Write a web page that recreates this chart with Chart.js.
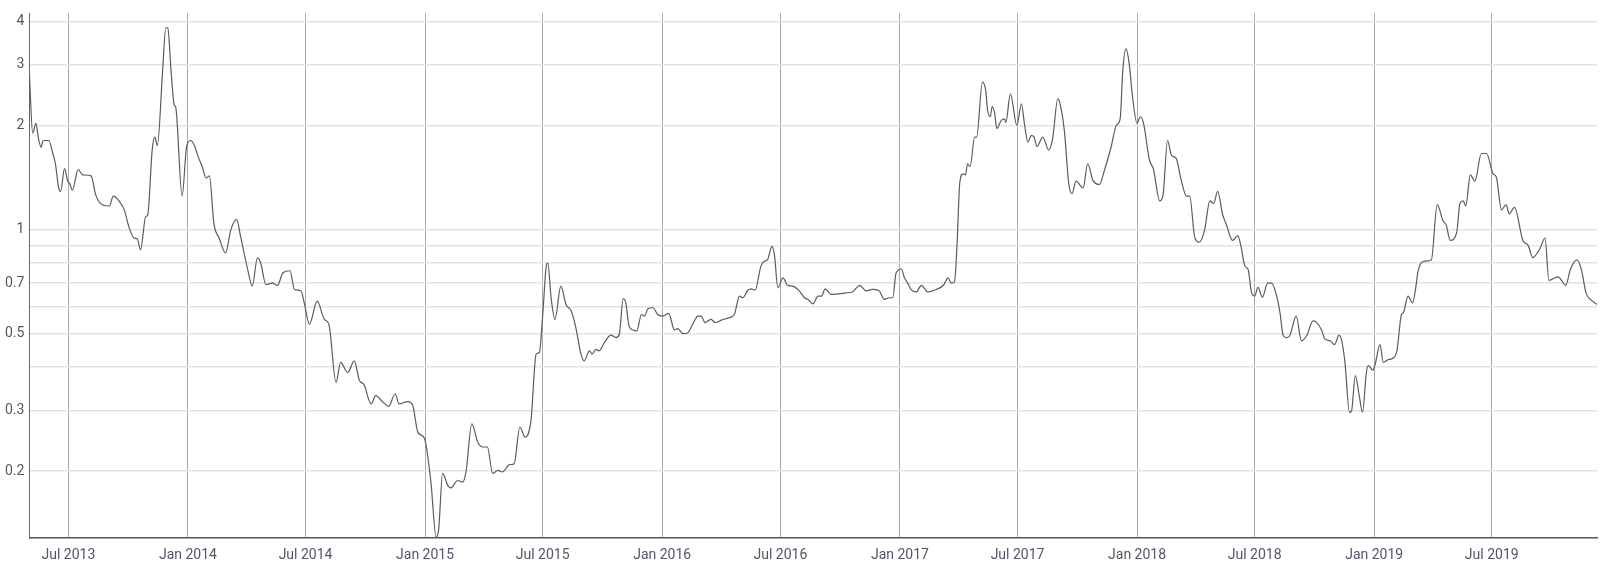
<!DOCTYPE html>
<html>
<head>
<meta charset="utf-8">
<script src="https://cdn.jsdelivr.net/npm/chart.js@4.4.1/dist/chart.umd.min.js"></script>
<style>
  body { margin: 0; background: #fff; overflow: hidden; }
  #wrap { width: 1600px; height: 564px; }
</style>
</head>
<body>
<div id="wrap"><canvas id="chart"></canvas></div>
<script>
// sample dates (roughly weekly)
const dates = [
  '2013-05-02','2013-05-07','2013-05-12','2013-05-16','2013-05-20','2013-05-23','2013-06-01','2013-06-07','2013-06-11','2013-06-16','2013-06-19','2013-06-25','2013-06-30','2013-07-03','2013-07-07','2013-07-16','2013-07-23','2013-08-05','2013-08-12','2013-08-22','2013-09-02','2013-09-08','2013-09-17','2013-09-25','2013-10-02','2013-10-10','2013-10-15','2013-10-20','2013-10-28','2013-10-31','2013-11-07','2013-11-11','2013-11-15','2013-11-23','2013-11-28','2013-12-01','2013-12-06','2013-12-11','2013-12-13','2013-12-23','2013-12-30',
  '2014-01-05','2014-01-11','2014-01-17','2014-01-23','2014-01-29','2014-02-03','2014-02-10','2014-02-18','2014-02-28','2014-03-08','2014-03-17','2014-03-23','2014-04-03','2014-04-10','2014-04-18','2014-04-23','2014-05-01','2014-05-11','2014-05-19','2014-05-27','2014-06-07','2014-06-14','2014-06-24','2014-06-29','2014-07-07','2014-07-19','2014-07-30','2014-08-06','2014-08-17','2014-08-24','2014-09-04','2014-09-14','2014-09-22','2014-09-29','2014-10-10','2014-10-17','2014-10-28','2014-11-06','2014-11-16','2014-11-22','2014-12-05','2014-12-13','2014-12-21','2014-12-31',
  '2015-01-10','2015-01-18','2015-01-22','2015-01-28','2015-02-05','2015-02-10','2015-02-20','2015-02-28','2015-03-05','2015-03-14','2015-03-23','2015-03-31','2015-04-07','2015-04-15','2015-04-23','2015-04-30','2015-05-11','2015-05-18','2015-05-27','2015-06-04','2015-06-13','2015-06-21','2015-06-26','2015-07-01','2015-07-07','2015-07-09','2015-07-14','2015-07-20','2015-07-29','2015-08-06','2015-08-14','2015-08-21','2015-08-29','2015-09-03','2015-09-11','2015-09-15','2015-09-21','2015-09-26','2015-10-04','2015-10-14','2015-10-22','2015-10-27','2015-11-02','2015-11-06','2015-11-11','2015-11-17','2015-11-23','2015-11-30','2015-12-05','2015-12-10','2015-12-18','2015-12-25',
  '2016-01-02','2016-01-11','2016-01-20','2016-01-25','2016-02-02','2016-02-09','2016-02-17','2016-02-25','2016-03-01','2016-03-07','2016-03-16','2016-03-23','2016-04-01','2016-04-13','2016-04-21','2016-04-29','2016-05-04','2016-05-12','2016-05-17','2016-05-23','2016-06-01','2016-06-06','2016-06-11','2016-06-18','2016-06-22','2016-06-27','2016-07-05','2016-07-12','2016-07-20','2016-07-30','2016-08-07','2016-08-13','2016-08-20','2016-08-28','2016-09-02','2016-09-08','2016-09-17','2016-09-30','2016-10-10','2016-10-20','2016-10-31','2016-11-10','2016-11-20','2016-11-30','2016-12-08','2016-12-16','2016-12-21','2016-12-26',
  '2017-01-03','2017-01-08','2017-01-13','2017-01-18','2017-01-26','2017-02-03','2017-02-13','2017-02-26','2017-03-09','2017-03-16','2017-03-21','2017-03-26','2017-03-30','2017-04-03','2017-04-08','2017-04-12','2017-04-15','2017-04-19','2017-04-26','2017-04-29','2017-05-08','2017-05-13','2017-05-16','2017-05-20','2017-05-23','2017-05-27','2017-05-30','2017-06-06','2017-06-11','2017-06-13','2017-06-20','2017-06-30','2017-07-07','2017-07-12','2017-07-17','2017-07-22','2017-07-26','2017-07-31','2017-08-09','2017-08-18','2017-08-24','2017-09-01','2017-09-04','2017-09-11','2017-09-18','2017-09-23','2017-09-29','2017-10-10','2017-10-17','2017-10-25','2017-11-04','2017-11-12','2017-11-22','2017-11-30','2017-12-06','2017-12-10','2017-12-15','2017-12-20','2017-12-25',
  '2018-01-01','2018-01-06','2018-01-11','2018-01-20','2018-01-26','2018-02-05','2018-02-10','2018-02-17','2018-02-23','2018-03-02','2018-03-10','2018-03-18','2018-03-23','2018-03-31','2018-04-07','2018-04-15','2018-04-23','2018-04-29','2018-05-05','2018-05-13','2018-05-18','2018-05-28','2018-06-05','2018-06-10','2018-06-16','2018-06-21','2018-06-26','2018-07-01','2018-07-06','2018-07-13','2018-07-21','2018-07-27','2018-08-04','2018-08-09','2018-08-14','2018-08-19','2018-08-24','2018-09-03','2018-09-11','2018-09-19','2018-09-29','2018-10-04','2018-10-12','2018-10-17','2018-10-25','2018-11-01','2018-11-08','2018-11-12','2018-11-17','2018-11-24','2018-11-27','2018-12-03','2018-12-09','2018-12-14','2018-12-20','2018-12-23','2018-12-30',
  '2019-01-02','2019-01-10','2019-01-15','2019-01-22','2019-01-30','2019-02-05','2019-02-12','2019-02-15','2019-02-22','2019-03-01','2019-03-07','2019-03-09','2019-03-20','2019-03-30','2019-04-08','2019-04-17','2019-04-22','2019-04-28','2019-05-08','2019-05-13','2019-05-18','2019-05-22','2019-05-29','2019-06-05','2019-06-15','2019-06-23','2019-07-03','2019-07-08','2019-07-16','2019-07-23','2019-07-28','2019-08-05','2019-08-18','2019-08-26','2019-09-02','2019-09-13','2019-09-21','2019-09-27','2019-10-11','2019-10-23','2019-10-30','2019-11-09','2019-11-16','2019-11-23','2019-11-30','2019-12-10'
];

// series values, same order as dates
const values = [
  2.8,1.90,2.03,1.83,1.73,1.81,1.81,1.66,1.55,1.32,1.29,1.50,1.38,1.36,1.30,1.49,1.44,1.43,1.26,1.18,1.17,1.25,1.21,1.14,1.02,0.945,0.94,0.874,1.09,1.10,1.70,1.85,1.75,2.88,3.84,3.83,2.88,2.29,2.27,1.25,1.74,
  1.81,1.75,1.62,1.52,1.41,1.43,1.04,0.945,0.856,0.998,1.07,0.956,0.766,0.686,0.828,0.80,0.693,0.70,0.69,0.749,0.76,0.671,0.665,0.614,0.532,0.621,0.55,0.532,0.361,0.413,0.386,0.417,0.366,0.356,0.313,0.331,0.317,0.308,0.335,0.313,0.318,0.31,0.259,0.249,
  0.186,0.129,0.136,0.197,0.182,0.179,0.188,0.186,0.199,0.274,0.243,0.235,0.235,0.197,0.201,0.199,0.209,0.21,0.268,0.251,0.28,0.436,0.441,0.562,0.792,0.80,0.635,0.55,0.686,0.607,0.581,0.521,0.436,0.417,0.446,0.436,0.45,0.446,0.471,0.495,0.487,0.498,0.631,0.614,0.526,0.512,0.509,0.568,0.562,0.59,0.594,0.568,
  0.562,0.572,0.512,0.517,0.50,0.502,0.532,0.562,0.562,0.538,0.55,0.538,0.547,0.556,0.568,0.642,0.635,0.668,0.674,0.668,0.784,0.81,0.817,0.894,0.84,0.678,0.725,0.69,0.686,0.665,0.635,0.627,0.61,0.642,0.642,0.674,0.649,0.652,0.656,0.66,0.69,0.665,0.671,0.665,0.628,0.635,0.635,0.749,
  0.769,0.725,0.70,0.671,0.66,0.69,0.66,0.671,0.69,0.725,0.70,0.706,0.914,1.36,1.45,1.44,1.55,1.52,1.85,1.85,2.67,2.53,2.21,2.12,2.27,2.16,1.96,2.07,2.09,2.04,2.47,2.0,2.31,2.0,1.79,1.87,1.86,1.74,1.85,1.70,1.83,2.39,2.33,1.94,1.35,1.27,1.38,1.32,1.55,1.39,1.35,1.49,1.73,2.0,2.09,2.88,3.33,3.01,2.42,
  2.03,2.12,2.03,1.59,1.50,1.21,1.26,1.81,1.64,1.61,1.39,1.25,1.25,0.945,0.92,0.998,1.21,1.19,1.29,1.10,1.04,0.93,0.96,0.894,0.784,0.766,0.66,0.642,0.68,0.638,0.70,0.70,0.642,0.575,0.493,0.487,0.493,0.562,0.477,0.493,0.544,0.54,0.512,0.483,0.477,0.465,0.495,0.477,0.413,0.296,0.298,0.378,0.331,0.296,0.386,0.404,0.392,
  0.404,0.465,0.413,0.42,0.425,0.446,0.568,0.575,0.642,0.614,0.70,0.749,0.81,0.817,1.18,1.06,1.03,0.93,0.98,1.19,1.21,1.17,1.44,1.38,1.66,1.66,1.45,1.42,1.14,1.18,1.11,1.16,0.93,0.90,0.83,0.88,0.945,0.713,0.73,0.69,0.766,0.817,0.766,0.656,0.628,0.607
];

// axis ticks
const xTickDates = ['2013-07-01','2014-01-01','2014-07-01','2015-01-01','2015-07-01','2016-01-01','2016-07-01','2017-01-01','2017-07-01','2018-01-01','2018-07-01','2019-01-01','2019-07-01'];
const yGridValues = [0.2, 0.3, 0.4, 0.5, 0.6, 0.7, 0.8, 0.9, 1, 2, 3, 4];
const yLabelValues = [0.2, 0.3, 0.5, 0.7, 1, 2, 3, 4];
const monthNames = ['Jan','Feb','Mar','Apr','May','Jun','Jul','Aug','Sep','Oct','Nov','Dec'];

const points = dates.map((d, i) => ({ x: Date.parse(d), y: values[i] }));

const textColor = '#555566';

new Chart(document.getElementById('chart').getContext('2d'), {
  type: 'line',
  data: {
    datasets: [{
      data: points,
      borderColor: '#5c5c5c',
      borderWidth: 1.2,
      pointRadius: 0,
      cubicInterpolationMode: 'monotone',
      fill: false
    }]
  },
  options: {
    responsive: true,
    maintainAspectRatio: false,
    animation: false,
    layout: { padding: { left: 0, right: 3, top: 6, bottom: -9 } },
    plugins: { legend: { display: false }, tooltip: { enabled: false } },
    scales: {
      x: {
        type: 'linear',
        min: Date.parse(dates[0]),
        max: Date.parse(dates[dates.length - 1]),
        afterBuildTicks: axis => { axis.ticks = xTickDates.map(d => ({ value: Date.parse(d) })); },
        ticks: {
          autoSkip: false,
          maxRotation: 0,
          padding: 9,
          color: textColor,
          font: { family: 'Roboto', size: 14 },
          callback: v => { const d = new Date(v); return monthNames[d.getUTCMonth()] + ' ' + d.getUTCFullYear(); }
        },
        grid: { color: '#a8a8a8', lineWidth: 1, drawTicks: false },
        border: { display: true, color: '#555', width: 1.5 }
      },
      y: {
        type: 'logarithmic',
        min: 0.128,
        max: 4.22,
        afterBuildTicks: axis => { axis.ticks = yGridValues.map(v => ({ value: v })); },
        ticks: {
          autoSkip: false,
          padding: 5,
          color: textColor,
          font: { family: 'Roboto', size: 14 },
          callback: v => yLabelValues.includes(v) ? String(v) : ''
        },
        grid: { color: '#e3e3e3', lineWidth: 1.5, drawTicks: false },
        border: { display: true, color: '#666', width: 1 }
      }
    }
  }
});
</script>
</body>
</html>
